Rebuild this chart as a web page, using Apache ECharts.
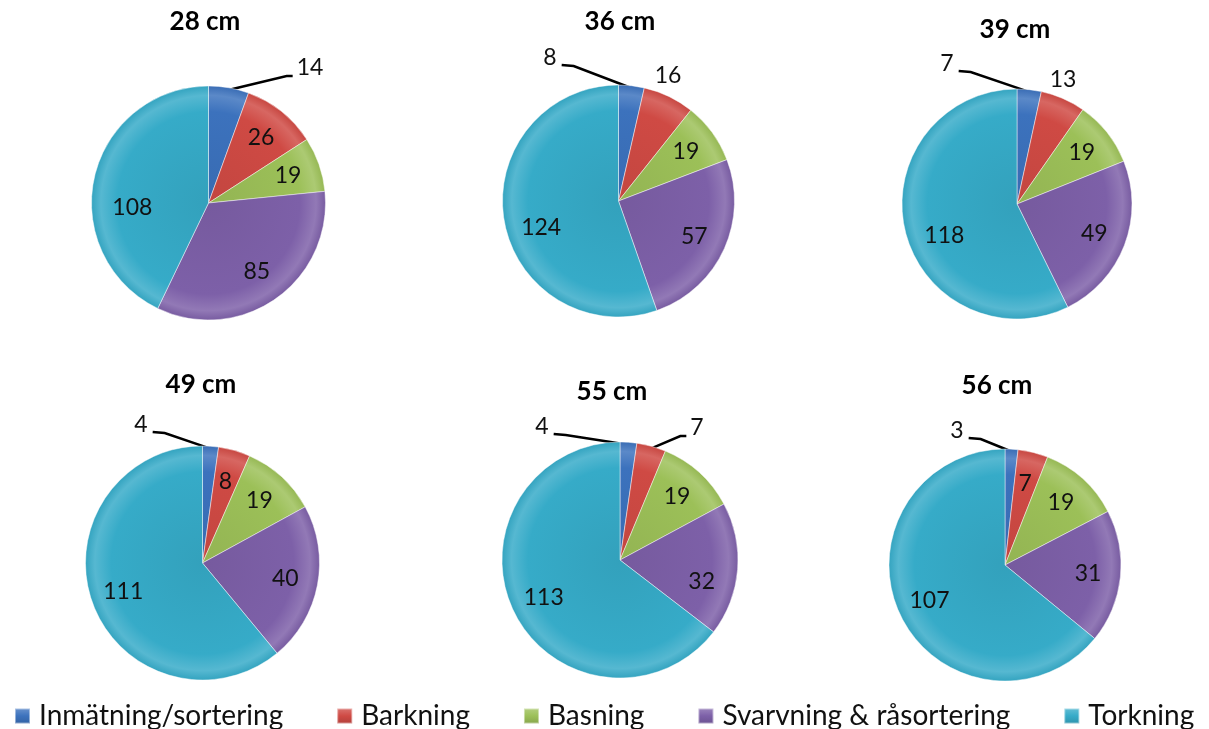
<!DOCTYPE html>
<html>
<head>
<meta charset="utf-8">
<script src="https://cdn.jsdelivr.net/npm/echarts@6/dist/echarts.min.js"></script>
<style>
  html, body { margin: 0; padding: 0; background: #ffffff; }
  #chart { width: 1209px; height: 729px; }
</style>
</head>
<body>
<div id="chart"></div>
<script>
// Process steps (legend order, clockwise from 12 o'clock)
const categories = ['Inmätning/sortering', 'Barkning', 'Basning', 'Svarvning & råsortering', 'Torkning'];
// Log diameter of each pie
const titles = ['28 cm', '36 cm', '39 cm', '49 cm', '55 cm', '56 cm'];

// Values per step for each diameter
const values28 = [14, 26, 19, 85, 108];
const values36 = [8, 16, 19, 57, 124];
const values39 = [7, 13, 19, 49, 118];
const values49 = [4, 8, 19, 40, 111];
const values55 = [4, 7, 19, 32, 113];
const values56 = [3, 7, 19, 31, 107];
const pieValues = [values28, values36, values39, values49, values55, values56];

const colors = ['#3c72bd', '#cf4a44', '#9cc058', '#7d60a8', '#36abc8'];
const FONT = 'Lato, "Open Sans", "DejaVu Sans", sans-serif';

// Placement of each pie (pixels) and its heading
const pies = [
  { center: [208.5, 203], r: 117, title: [205, 22] },
  { center: [618.5, 201], r: 116, title: [620, 22] },
  { center: [1017, 204],  r: 115, title: [1015, 30] },
  { center: [202.5, 563], r: 117, title: [201, 385] },
  { center: [620, 560],   r: 118, title: [612, 392] },
  { center: [1005, 565],  r: 116, title: [997, 386] }
];

// Labels set outside the pie: offset of the label from the pie centre and leader style
const outsideLabels = {
  '0-0': { dx: 101.5, dy: -135, line: 'right' },
  '1-0': { dx: -68.5, dy: -143, line: 'left' },
  '1-1': { dx: 49.5,  dy: -125, line: 'none' },
  '2-0': { dx: -70,   dy: -140, line: 'left' },
  '2-1': { dx: 46,    dy: -124, line: 'none' },
  '3-0': { dx: -61.5, dy: -138, line: 'left' },
  '4-0': { dx: -78,   dy: -133, line: 'left' },
  '4-1': { dx: 77,    dy: -132, line: 'right' },
  '5-0': { dx: -48,   dy: -134, line: 'left' }
};
// Small nudges for some inside labels
const insideNudge = { '0-4': [6, 23], '1-4': [5, 13], '2-4': [8, 13], '4-3': [-3, 15] };
const INSIDE_RATIO = 0.72;

function shade(hex, amt) {
  const n = parseInt(hex.slice(1), 16);
  let r = (n >> 16) & 255, g = (n >> 8) & 255, b = n & 255;
  const f = (c) => amt >= 0 ? Math.round(c + (255 - c) * amt) : Math.round(c * (1 + amt));
  r = f(r); g = f(g); b = f(b);
  return 'rgb(' + r + ',' + g + ',' + b + ')';
}

function sliceFill(p, i) {
  const pie = pies[p];
  const c = colors[i];
  return {
    type: 'radial', x: pie.center[0], y: pie.center[1], r: pie.r, global: true,
    colorStops: [
      { offset: 0, color: shade(c, -0.06) },
      { offset: 0.78, color: c },
      { offset: 0.92, color: shade(c, 0.16) },
      { offset: 1, color: shade(c, -0.04) }
    ]
  };
}

function legendFill(i) {
  const c = colors[i];
  return {
    type: 'linear', x: 0, y: 0, x2: 0, y2: 1,
    colorStops: [
      { offset: 0, color: shade(c, 0.25) },
      { offset: 0.5, color: c },
      { offset: 1, color: shade(c, -0.15) }
    ]
  };
}

function midAngle(vals, i) {
  const total = vals.reduce((a, b) => a + b, 0);
  let cum = 0;
  for (let k = 0; k < i; k++) cum += vals[k];
  return (cum + vals[i] / 2) / total * Math.PI * 2;
}

function layoutLabel(params) {
  const p = params.seriesIndex, i = params.dataIndex;
  const pie = pies[p];
  const [cx, cy] = pie.center;
  const a = midAngle(pieValues[p], i);
  const key = p + '-' + i;
  const out = outsideLabels[key];
  if (out) {
    const lx = cx + out.dx, ly = cy + out.dy;
    const res = { x: lx, y: ly, align: 'center', verticalAlign: 'middle' };
    if (out.line !== 'none') {
      const ax = cx + pie.r * 0.98 * Math.sin(a);
      const ay = cy - pie.r * 0.98 * Math.cos(a);
      const hw = params.labelRect.width / 2;
      if (out.line === 'left') {
        res.labelLinePoints = [[ax, ay], [lx + hw + 17, ly + 8], [lx + hw + 5, ly + 7]];
      } else {
        res.labelLinePoints = [[ax, ay], [lx - hw - 10, ly + 8], [lx - hw - 4, ly + 8]];
      }
    }
    return res;
  }
  const rho = pie.r * INSIDE_RATIO;
  const nudge = insideNudge[key] || [0, 0];
  return {
    x: cx + rho * Math.sin(a) + nudge[0],
    y: cy - rho * Math.cos(a) + nudge[1],
    align: 'center', verticalAlign: 'middle'
  };
}

const chart = echarts.init(document.getElementById('chart'), null, { renderer: 'canvas' });

const option = {
  backgroundColor: '#ffffff',
  animation: false,
  graphic: pies.map((pie, p) => ({
    type: 'text',
    x: pie.title[0], y: pie.title[1],
    style: {
      text: titles[p], fill: '#000000',
      font: 'bold 26px ' + FONT,
      align: 'center', verticalAlign: 'middle'
    }
  })),
  legend: {
    left: 14, top: 702, width: 1195,
    padding: 0,
    itemWidth: 15, itemHeight: 15, itemGap: 53,
    icon: 'rect',
    selectedMode: false,
    textStyle: { fontFamily: FONT, fontSize: 28, color: '#111111', padding: [0, 0, 0, 4] },
    data: categories.map((n, i) => ({ name: n, itemStyle: { color: legendFill(i) } }))
  },
  series: pieValues.map((vals, p) => ({
    type: 'pie',
    center: pies[p].center,
    radius: pies[p].r,
    startAngle: 90,
    clockwise: true,
    avoidLabelOverlap: false,
    silent: true,
    label: { show: true, position: 'inside', formatter: '{c}', color: '#111111', fontFamily: FONT, fontSize: 23 },
    labelLine: { show: false, lineStyle: { color: '#000000', width: 2.5 } },
    labelLayout: layoutLabel,
    itemStyle: { borderColor: 'rgba(255,255,255,0.45)', borderWidth: 1 },
    emphasis: { disabled: true },
    data: vals.map((v, i) => {
      const out = outsideLabels[p + '-' + i];
      const item = { name: categories[i], value: v, itemStyle: { color: sliceFill(p, i) } };
      if (out) {
        item.label = { position: 'outside' };
        item.labelLine = { show: out.line !== 'none', length: 10, length2: 10 };
      }
      return item;
    })
  }))
};

chart.setOption(option);
</script>
</body>
</html>
